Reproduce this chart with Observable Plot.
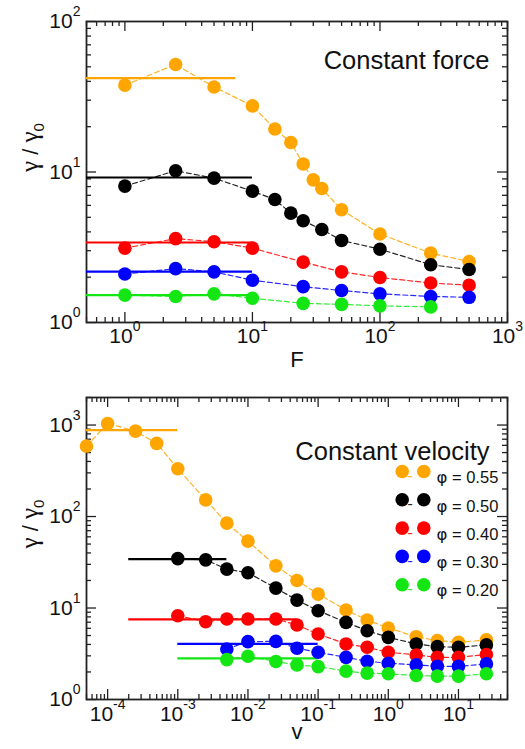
<!DOCTYPE html>
<html><head><meta charset="utf-8">
<script src="https://cdn.jsdelivr.net/npm/d3@7"></script>
<script src="https://cdn.jsdelivr.net/npm/@observablehq/plot@0.6"></script>
<style>body{margin:0;background:#fff} svg{display:block}</style>
</head><body><div id="chart"></div>
<script>
// ---------- data ----------
const phis = ["0.55", "0.50", "0.40", "0.30", "0.20"];
const colors = ["#ffa500", "#000000", "#ff0000", "#0000ff", "#14e614"];

// Constant force panel
const fX055 = [1, 2.5, 5, 10, 15, 20, 25, 30, 35, 50, 100, 250, 500];
const fY055 = [37.8, 51.8, 36.7, 27.5, 19.3, 15.7, 11.3, 8.87, 7.77, 5.61, 3.87, 2.89, 2.54];
const fX050 = [1, 2.5, 5, 10, 15, 20, 25, 35, 50, 100, 250, 500];
const fY050 = [8.06, 10.2, 9.1, 7.46, 6.56, 5.33, 4.74, 4.15, 3.51, 3.07, 2.42, 2.25];
const fX040 = [1, 2.5, 5, 10, 25, 50, 100, 250, 500];
const fY040 = [3.12, 3.61, 3.44, 3.12, 2.52, 2.17, 1.99, 1.83, 1.77];
const fX030 = [1, 2.5, 5, 10, 25, 50, 100, 250, 500];
const fY030 = [2.10, 2.28, 2.17, 1.91, 1.73, 1.63, 1.55, 1.49, 1.47];
const fX020 = [1, 2.5, 5, 10, 25, 50, 100, 250];
const fY020 = [1.52, 1.49, 1.55, 1.45, 1.34, 1.32, 1.29, 1.27];
const fPlateauY = [42.1, 9.19, 3.4, 2.18, 1.52];
const fPlateauX0 = [0.5, 0.5, 0.5, 0.5, 0.5];
const fPlateauX1 = [7.4, 10, 10, 10, 10];

// Constant velocity panel
const vX055 = [5e-5, 1e-4, 2.5e-4, 5e-4, 1e-3, 2.5e-3, 5e-3, 1e-2, 2.5e-2, 5e-2, 0.1, 0.25, 0.5, 1, 2.5, 5, 10, 25];
const vY055 = [589, 1041, 858, 630, 333, 152, 84.6, 53.8, 28.9, 20, 14.2, 9.5, 7.4, 6.05, 4.86, 4.40, 4.22, 4.48];
const vX050 = [1e-3, 2.5e-3, 5e-3, 1e-2, 2.5e-2, 5e-2, 0.1, 0.25, 0.5, 1, 2.5, 5, 10, 25];
const vY050 = [34.7, 33.6, 26.6, 24.3, 16.5, 12.2, 9.35, 6.97, 5.65, 4.78, 4.05, 3.78, 3.72, 3.95];
const vX040 = [1e-3, 2.5e-3, 5e-3, 1e-2, 2.5e-2, 5e-2, 0.1, 0.25, 0.5, 1, 2.5, 5, 10, 25];
const vY040 = [8.24, 7.09, 7.59, 7.59, 7.59, 6.52, 5.2, 4.05, 3.72, 3.28, 3.07, 2.89, 2.89, 3.10];
const vX030 = [5e-3, 1e-2, 2.5e-2, 5e-2, 0.1, 0.25, 0.5, 1, 2.5, 5, 10, 25];
const vY030 = [3.57, 4.29, 4.32, 3.63, 3.28, 2.89, 2.62, 2.49, 2.39, 2.31, 2.30, 2.45];
const vX020 = [5e-3, 1e-2, 2.5e-2, 5e-2, 0.1, 0.25, 0.5, 1, 2.5, 5, 10, 25];
const vY020 = [2.73, 2.97, 2.60, 2.39, 2.29, 2.04, 1.94, 1.91, 1.83, 1.80, 1.80, 1.91];
const vPlateauY = [880, 34.2, 7.5, 4.05, 2.82];
const vPlateauX0 = [5e-5, 2e-4, 2e-4, 1e-3, 1e-3];
const vPlateauX1 = [1e-3, 5e-3, 5e-2, 0.1, 0.1];

// ticks
const fXTicks = [1, 10, 100, 1000];
const fYTicks = [1, 10, 100];
const vXTicks = [1e-4, 1e-3, 1e-2, 1e-1, 1, 10];
const vYTicks = [1, 10, 100, 1000];
const fXDomain = [0.5, 1000], fYDomain = [1, 100];
const vXDomain = [5e-5, 50], vYDomain = [1, 2000];

// ---------- helpers ----------
const rows = (phi, xs, ys) => xs.map((x, i) => ({phi, x, y: ys[i]}));
const plateauRows = (ys, x0, x1) => phis.map((phi, i) => ({phi, y: ys[i], x0: x0[i], x1: x1[i]}));

function logTicks([lo, hi]) {
  const major = [], minor = [];
  for (let e = Math.floor(Math.log10(lo)); e <= Math.ceil(Math.log10(hi)); e++) {
    for (let m = 1; m < 10; m++) {
      const v = +(m * Math.pow(10, e)).toPrecision(6);
      if (v < lo * 0.999 || v > hi * 1.001) continue;
      (m === 1 ? major : minor).push(v);
    }
  }
  return {major, minor};
}

const FONT = "'Liberation Sans', Arial, Helvetica, sans-serif";
const GREEK = "'Liberation Serif', 'DejaVu Serif', serif";
const PHIFONT = "'DejaVu Sans', sans-serif";
const SVGNS = "http://www.w3.org/2000/svg";
const W = 525, ML = 86, MR = 18;
const fmt = d => "10^" + Math.round(Math.log10(d));
const YLABEL = "γ / γ0";

function tspan(text, attrs) {
  const ts = document.createElementNS(SVGNS, "tspan");
  for (const k in attrs) ts.setAttribute(k, attrs[k]);
  ts.textContent = text;
  return ts;
}

function panel(o) {
  const ph = o.height - o.mt - o.mb, pw = W - ML - MR;
  const xt = logTicks(o.xDomain), yt = logTicks(o.yDomain);
  const tk = {stroke: "#222", strokeWidth: 1.3};
  const marks = [
    Plot.tickX(xt.major, {x: d => d, insetTop: ph - 10, ...tk}),
    Plot.tickX(xt.major, {x: d => d, insetBottom: ph - 10, ...tk}),
    Plot.tickX(xt.minor, {x: d => d, insetTop: ph - 5, ...tk}),
    Plot.tickX(xt.minor, {x: d => d, insetBottom: ph - 5, ...tk}),
    Plot.tickY(yt.major, {y: d => d, insetRight: pw - 10, ...tk}),
    Plot.tickY(yt.major, {y: d => d, insetLeft: pw - 10, ...tk}),
    Plot.tickY(yt.minor, {y: d => d, insetRight: pw - 5, ...tk}),
    Plot.tickY(yt.minor, {y: d => d, insetLeft: pw - 5, ...tk}),
    Plot.frame({stroke: "#222", strokeWidth: 1.8}),
    Plot.axisX(o.xTicks, {tickSize: 0, tickPadding: o.xPad, fontSize: 21, tickFormat: fmt, label: null}),
    Plot.axisY(o.yTicks, {tickSize: 0, tickPadding: 6, fontSize: 21, tickFormat: fmt, label: null}),
    Plot.text([o.xLabel], {text: d => d, frameAnchor: "bottom", dy: o.xLabelDy, fontSize: 22}),
    Plot.text([YLABEL], {text: d => d, frameAnchor: "left", rotate: -90, dx: -56, fontSize: 22}),
    Plot.text([o.title], {text: d => d, frameAnchor: "top-right", textAnchor: "end", dx: -18, dy: o.titleDy, fontSize: 25.5}),
    Plot.ruleY(o.plateaus, {y: "y", x1: "x0", x2: "x1", stroke: "phi", strokeWidth: 2.2}),
    Plot.line(o.data, {x: "x", y: "y", z: "phi", stroke: "phi", strokeWidth: 1.2, strokeDasharray: "5,3", strokeOpacity: 0.85}),
    Plot.dot(o.data, {x: "x", y: "y", fill: "phi", r: 6.8})
  ];
  if (o.legend) {
    phis.forEach((phi, i) => {
      const dy = 74 + i * 28.3;
      marks.push(
        Plot.dot([phi], {frameAnchor: "top-right", dx: -105.3, dy, fill: colors[i], r: 6.8}),
        Plot.dot([phi], {frameAnchor: "top-right", dx: -83.7, dy, fill: colors[i], r: 6.8}),
        Plot.text(["-"], {text: d => d, frameAnchor: "top-right", dx: -94.5, dy: dy - 2.5, fill: colors[i], fontSize: 17, fillOpacity: 0.85}),
        Plot.text([phi], {text: d => "φ = " + d, frameAnchor: "top-right", textAnchor: "start", dx: -71, dy, fontSize: 16.5})
      );
    });
  }
  const svg = Plot.plot({
    width: W, height: o.height,
    marginLeft: ML, marginRight: MR, marginTop: o.mt, marginBottom: o.mb,
    x: {type: "log", domain: o.xDomain},
    y: {type: "log", domain: o.yDomain},
    color: {type: "ordinal", domain: phis, range: colors},
    style: {fontFamily: FONT, color: "#111", background: "#fff", overflow: "visible"},
    marks
  });
  svg.querySelectorAll("text").forEach(t => {
    const s = t.textContent;
    const m = s.match(/^10\^(-?\d+)$/);
    if (m) {
      // superscript exponent on tick labels
      t.textContent = "10";
      t.appendChild(tspan(m[1], {dy: "-12", "font-size": "14"}));
    } else if (s === YLABEL) {
      // gamma with subscript 0
      t.textContent = "";
      t.appendChild(tspan("γ", {"font-family": GREEK, "font-size": "25"}));
      t.appendChild(tspan(" / ", {}));
      t.appendChild(tspan("γ", {"font-family": GREEK, "font-size": "25"}));
      t.appendChild(tspan("0", {dy: "6", "font-size": "15"}));
    } else if (s.startsWith("φ")) {
      t.textContent = "";
      t.appendChild(tspan("φ", {"font-family": PHIFONT}));
      t.appendChild(tspan(s.slice(1), {}));
    }
  });
  return svg;
}

const forceData = [
  ...rows("0.55", fX055, fY055), ...rows("0.50", fX050, fY050), ...rows("0.40", fX040, fY040),
  ...rows("0.30", fX030, fY030), ...rows("0.20", fX020, fY020)
];
const velData = [
  ...rows("0.55", vX055, vY055), ...rows("0.50", vX050, vY050), ...rows("0.40", vX040, vY040),
  ...rows("0.30", vX030, vY030), ...rows("0.20", vX020, vY020)
];

const chart = document.getElementById("chart");
chart.append(panel({
  height: 380, mt: 21, mb: 58, xDomain: fXDomain, yDomain: fYDomain,
  xTicks: fXTicks, yTicks: fYTicks, data: forceData,
  plateaus: plateauRows(fPlateauY, fPlateauX0, fPlateauX1),
  xLabel: "F", xLabelDy: 44, xPad: 6, title: "Constant force", titleDy: 29, legend: false
}));
chart.append(panel({
  height: 369, mt: 17, mb: 50, xDomain: vXDomain, yDomain: vYDomain,
  xTicks: vXTicks, yTicks: vYTicks, data: velData,
  plateaus: plateauRows(vPlateauY, vPlateauX0, vPlateauX1),
  xLabel: "v", xLabelDy: 39, xPad: 7, title: "Constant velocity", titleDy: 44, legend: true
}));
</script></body></html>
